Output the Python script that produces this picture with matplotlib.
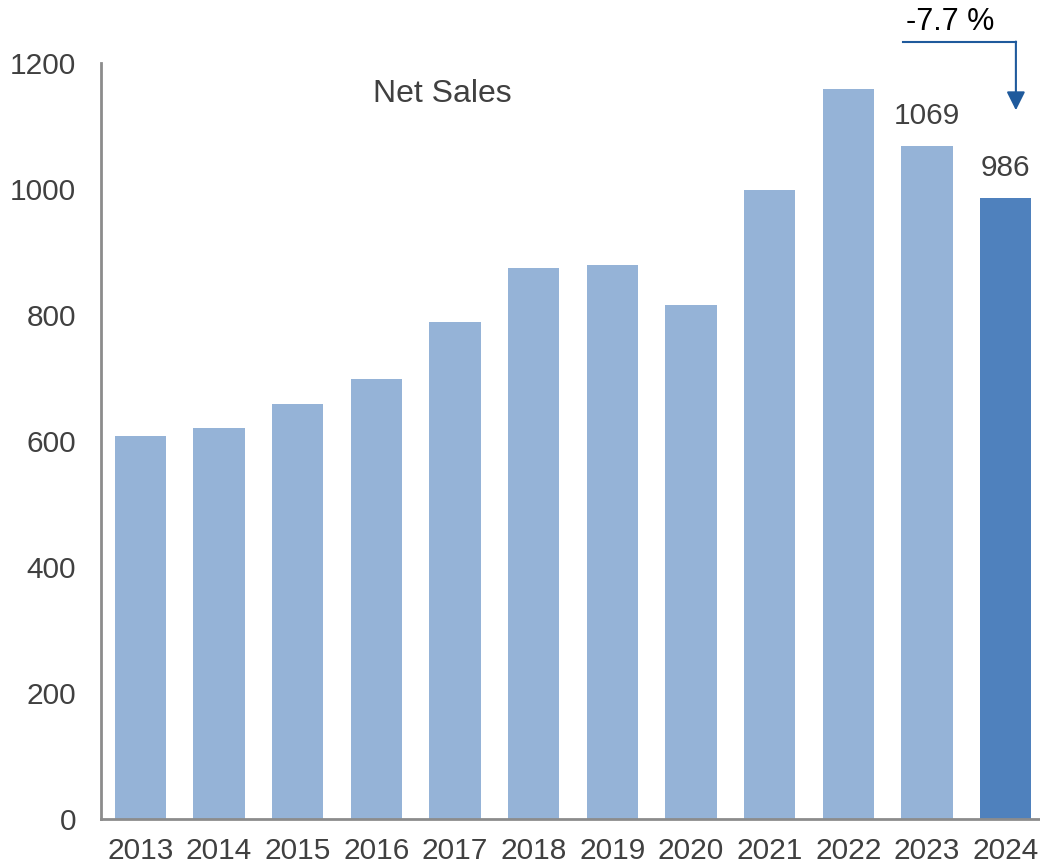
import matplotlib.pyplot as plt
import numpy as np

plt.rcParams['font.family'] = ['Liberation Sans', 'DejaVu Sans']

years = ['2013', '2014', '2015', '2016', '2017', '2018',
         '2019', '2020', '2021', '2022', '2023', '2024']
net_sales = [608, 620, 659, 698, 789, 874, 879, 816, 998, 1158, 1069, 986]
labelled = {10: '1069', 11: '986'}
change_text = '-7.7 %'

light = '#95b3d7'
dark = '#4f81bd'
grey_txt = '#404040'

fig = plt.figure(figsize=(10.4, 8.66), dpi=100)
ax = fig.add_axes([101 / 1040, 47 / 866, 944 / 1040, 756 / 866])

x = np.arange(len(years))
colors = [light] * (len(years) - 1) + [dark]
ax.bar(x, net_sales, width=0.65, color=colors, zorder=2)

for i, txt in labelled.items():
    ax.text(x[i], net_sales[i] + 25, txt, ha='center', va='bottom',
            fontsize=21.5, color=grey_txt)

ax.text(2.96, 1150, 'Net Sales', ha='left', va='center', fontsize=23, color=grey_txt)

# year-on-year change bracket
ax.plot([9.69, 11.13], [1233, 1233], color='#1f5a9c', lw=1.5, clip_on=False)
ax.annotate('', xy=(11.13, 1125), xytext=(11.13, 1234),
            arrowprops=dict(arrowstyle='-|>', color='#1f5a9c', lw=1.5,
                            mutation_scale=28, shrinkA=0, shrinkB=0),
            annotation_clip=False)
ax.text(10.29, 1242, change_text, ha='center', va='bottom', fontsize=22, color='black')

ax.set_xlim(-0.5, 11.5)
ax.set_ylim(0, 1200)
ax.set_yticks(range(0, 1201, 200))
ax.set_xticks(x)
ax.set_xticklabels(years)
ax.tick_params(axis='both', length=0, labelsize=21.5, colors=grey_txt)
ax.tick_params(axis='x', pad=13)
ax.tick_params(axis='y', pad=18)

for s in ['top', 'right']:
    ax.spines[s].set_visible(False)
for s in ['left', 'bottom']:
    ax.spines[s].set_color('#8c8c8c')
    ax.spines[s].set_linewidth(2)

fig.savefig('out.png', dpi=100)
